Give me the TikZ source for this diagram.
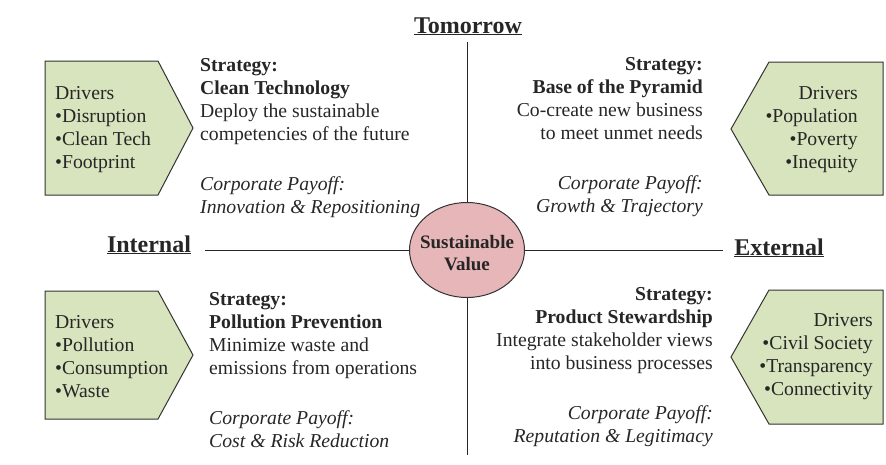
\documentclass[tikz,border=0pt]{standalone}
\usepackage{fontspec}
\setmainfont{Liberation Serif}
\usetikzlibrary{shapes.geometric}
\definecolor{drvgreen}{HTML}{D7E4BD}
\definecolor{valpink}{HTML}{E7B6B8}
\tikzset{
    	every node/.append style={font=\fontsize{19.7}{23}\selectfont,inner sep=0pt,text=black!85}}
\begin{document}
\begin{tikzpicture}
  [x=1pt,y=-1pt,
   drv/.style={draw=black!80,fill=drvgreen,line width=1pt},
   axis/.style={draw=black!85,line width=1pt},
   head/.style={font=\fontsize{24}{28}\selectfont\bfseries},
   ltxt/.style={align=left,anchor=base west},
   rtxt/.style={align=right,anchor=base east}]
  \useasboundingbox (0,0) rectangle (886,464);

  % axes and centre
  \node [ellipse,draw=black!80,line width=1pt,fill=valpink,minimum width=115pt,minimum height=95pt] (sv) at (467,250) {};
  \node [align=center,anchor=base,font=\fontsize{19}{22}\selectfont\bfseries] (svt) at (467,270) {Sustainable\\Value};
  \coordinate (up) at (467,42);
  \coordinate (dn) at (467,455);
  \coordinate (lt) at (205,250);
  \coordinate (rt) at (723,250);
  \foreach \to in {up,dn,lt,rt}
    \draw[axis] (sv) -- (\to);

  \node [head,anchor=base] (tom) at (468,33) {\underline{Tomorrow}};
  \node [head,anchor=base] (int) at (149,252) {\underline{Internal}};
  \node [head,anchor=base] (ext) at (779,255) {\underline{External}};

  % driver boxes
  \draw[drv] (45,61) -- (158,61) -- (193,128) -- (158,195) -- (45,195) -- cycle;
  \draw[drv] (883,62) -- (769,62) -- (731,129) -- (769,195) -- (883,195) -- cycle;
  \draw[drv] (45,291) -- (158,291) -- (193,355) -- (158,419) -- (45,419) -- cycle;
  \draw[drv] (883,290) -- (769,290) -- (731,357) -- (769,424) -- (883,424) -- cycle;

  \node [ltxt] (d1) at (55,168) {Drivers\\•Disruption\\•Clean Tech\\•Footprint};
  \node [rtxt] (d2) at (858,168) {Drivers\\•Population\\•Poverty\\•Inequity};
  \node [ltxt] (d3) at (55,397) {Drivers\\•Pollution\\•Consumption\\•Waste};
  \node [rtxt] (d4) at (873,395) {Drivers\\•Civil Society\\•Transparency\\•Connectivity};

  % strategies
  \node [ltxt] (s1) at (200,213) {\textbf{Strategy:}\\\textbf{Clean Technology}\\Deploy the sustainable\\competencies of the future\\[27pt]
    \textit{Corporate Payoff:}\\\textit{Innovation \& Repositioning}};
  \node [rtxt] (s2) at (703,212) {\textbf{Strategy:}\\\textbf{Base of the Pyramid}\\Co-create new business\\to meet unmet needs\\[27pt]
    \textit{Corporate Payoff:}\\\textit{Growth \& Trajectory}};
  \node [ltxt] (s3) at (209,447) {\textbf{Strategy:}\\\textbf{Pollution Prevention}\\Minimize waste and\\emissions from operations\\[27pt]
    \textit{Corporate Payoff:}\\\textit{Cost \& Risk Reduction}};
  \node [rtxt] (s4) at (713,442) {\textbf{Strategy:}\\\textbf{Product Stewardship}\\Integrate stakeholder views\\into business processes\\[27pt]
    \textit{Corporate Payoff:}\\\textit{Reputation \& Legitimacy}};
\end{tikzpicture}
\end{document}
